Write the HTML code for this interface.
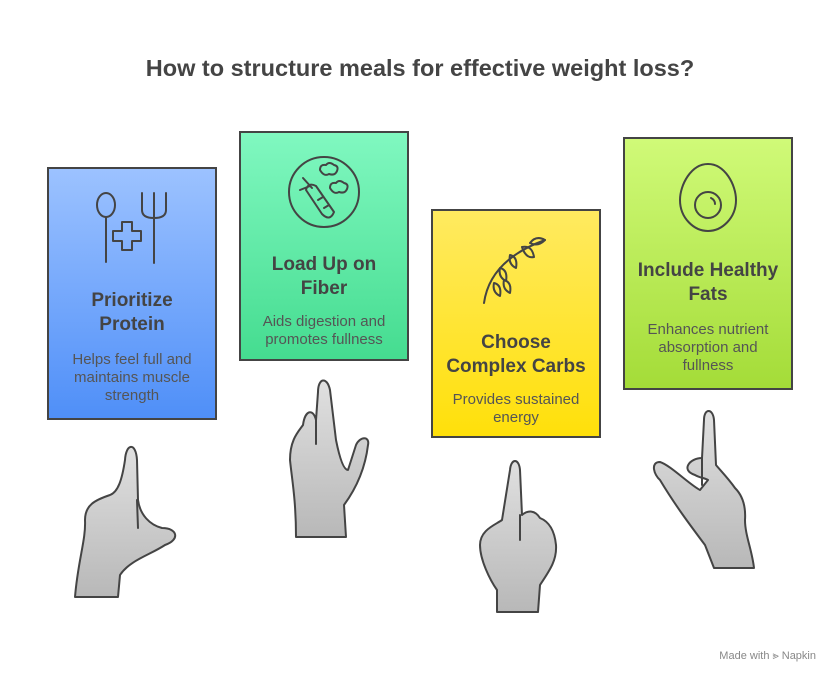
<!DOCTYPE html>
<html><head><style>
body{margin:0;width:840px;height:684px;background:#fff;font-family:"Liberation Sans",sans-serif;position:relative;overflow:hidden}
.t{position:absolute;left:0;width:840px;top:55px;text-align:center;font-size:23.5px;font-weight:bold;color:#444}
.box{position:absolute;border:2px solid #444;box-sizing:border-box;text-align:center;color:#444}
.h{position:absolute;left:0;width:100%;font-size:19px;font-weight:bold;line-height:24px}
.d{position:absolute;left:0;width:100%;font-size:15px;line-height:18px;color:#555}
.mw{position:absolute;right:24px;top:650px;font-size:11px;color:#888}
</style></head><body>
<div class="t">How to structure meals for effective weight loss?</div>
<div class="box" style="left:47px;top:167px;width:170px;height:253px;background:linear-gradient(#9cc2ff,#4f8ff8)">
<div class="h" style="top:120px">Prioritize<br>Protein</div>
<div class="d" style="top:182px">Helps feel full and<br>maintains muscle<br>strength</div></div>
<div class="box" style="left:239px;top:131px;width:170px;height:230px;background:linear-gradient(#80f8c0,#45dc90)">
<div class="h" style="top:120px">Load Up on<br>Fiber</div>
<div class="d" style="top:180px">Aids digestion and<br>promotes fullness</div></div>
<div class="box" style="left:431px;top:209px;width:170px;height:229px;background:linear-gradient(#ffea60,#ffe00a)">
<div class="h" style="top:120px">Choose<br>Complex Carbs</div>
<div class="d" style="top:180px">Provides sustained<br>energy</div></div>
<div class="box" style="left:623px;top:137px;width:170px;height:253px;background:linear-gradient(#d0fa78,#a4dc38)">
<div class="h" style="top:120px">Include Healthy<br>Fats</div>
<div class="d" style="top:182px">Enhances nutrient<br>absorption and<br>fullness</div></div>
<svg width="840" height="684" style="position:absolute;left:0;top:0" fill="none" stroke="#444" stroke-width="2" stroke-linecap="round" stroke-linejoin="round">
<defs><linearGradient id="g" x1="0" y1="0" x2="0" y2="1"><stop offset="0" stop-color="#e0e0e0"/><stop offset="1" stop-color="#b8b8b8"/></linearGradient></defs>
<ellipse cx="106" cy="205" rx="9" ry="12"/><line x1="106" y1="217" x2="106" y2="262"/>
<path d="M142,193 V210 Q142,218 154,218 Q166,218 166,210 V193 M154,193 V263"/>
<path d="M122,222 h10 v9 h9 v10 h-9 v9 h-10 v-9 h-9 v-10 h9 z"/>
<circle cx="324" cy="192" r="35"/>
<path d="M306,190 L322,214 Q330,222 334,212 L316,186 Q308,182 306,190 Z M303,178 L312,188 M300,190 L310,186 M318,200 l5,-3 M324,208 l5,-3"/>
<path d="M320,170 q0,-6 6,-5 q3,-4 8,0 q5,1 3,6 q-2,5 -8,3 q-5,3 -9,-4z M330,188 q0,-6 6,-5 q3,-4 8,0 q5,1 3,6 q-2,5 -8,3 q-5,3 -9,-4z"/>
<path d="M484,303 Q490,260 545,240"/>
<path d="M530,243 q6,-8 15,-3 q-7,7 -15,3z M522,247 q10,-2 12,10 q-8,2 -12,-10z M510,255 q8,2 6,13 q-8,-4 -6,-13z M500,268 q8,2 6,13 q-8,-4 -6,-13z M494,283 q8,2 6,13 q-8,-4 -6,-13z M504,280 q8,2 6,13 q-8,-4 -6,-13z"/>
<path d="M708,164 C725,164 736,185 736,200 C736,218 722,231 708,231 C694,231 680,218 680,200 C680,185 691,164 708,164 Z"/>
<circle cx="708" cy="205" r="13"/><path d="M711,198 q4,2 4,6"/>
<g fill="url(#g)">
<path d="M118,597 L75,597 C78,560 86,540 85,520 C85,505 95,500 110,495 C118,492 122,480 125,460 C126,443 136,442 137,460 L138,500 C140,515 150,525 162,528 C178,528 180,540 165,545 C150,555 130,560 120,575 Z"/>
<path d="M296,537 L346,537 L344,505 C355,490 365,470 368,445 C370,436 360,436 356,445 L348,470 C344,470 340,460 336,440 L330,390 C327,376 318,378 318,392 L316,420 C313,408 305,410 303,425 C298,432 290,440 290,460 C292,480 296,500 296,537 Z"/>
<path d="M497,612 L538,612 L540,585 C550,570 557,560 556,545 C554,525 545,520 540,518 C535,510 528,510 522,515 L520,470 C519,458 511,458 510,470 L502,520 C495,525 480,530 480,545 C480,560 490,580 497,590 Z"/>
<path d="M714,568 L754,568 C752,550 745,535 745,520 C746,505 742,495 735,488 C728,478 720,470 716,465 L714,420 C713,408 704,408 704,420 L702,458 C690,458 680,470 695,475 C700,478 705,478 708,480 L700,490 C690,485 670,465 660,462 C650,462 654,475 660,480 C675,505 690,525 705,545 Z"/>
</g>
<path d="M137,500 L138,528 M316,420 L316,444 M520,515 L520,540 M702,458 L702,485"/>
</svg>
<div class="mw">Made with ⪢ Napkin</div>
</body></html>
